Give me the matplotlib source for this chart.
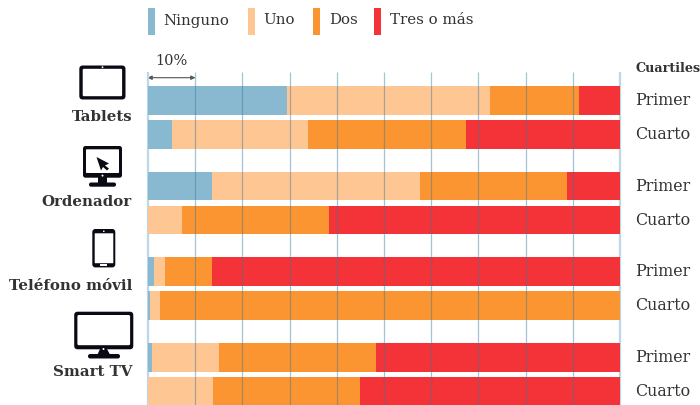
"""Devices by quartile, stacked 100% bars."""

import matplotlib

matplotlib.use("Agg")
import matplotlib.pyplot as plt
from matplotlib.patches import FancyBboxPatch, Polygon, Rectangle, Circle

devices = ["Tablets", "Ordenador", "Teléfono móvil", "Smart TV"]
quartiles = ["Primer", "Cuarto"]
categories = ["Ninguno", "Uno", "Dos", "Tres o más"]

ninguno = [29.4, 5.1, 13.6, 0.0, 1.3, 0.4, 0.8, 0.0]
uno = [43.1, 28.7, 44.0, 7.3, 2.4, 2.1, 14.2, 13.8]
dos = [18.8, 33.6, 31.2, 31.0, 9.8, 97.5, 33.3, 31.1]
tres = [8.7, 32.6, 11.2, 61.7, 86.5, 0.0, 51.7, 55.1]

colors = ["#89b9d0", "#fec693", "#fa9531", "#f33338"]
FONT = "DejaVu Serif"
TEXT = "#333333"

fig = plt.figure(figsize=(7, 4.05), dpi=100)

# overlay in pixel coords for legend, labels and icons
ov = fig.add_axes([0, 0, 1, 1])
ov.set_xlim(0, 700)
ov.set_ylim(405, 0)
ov.axis("off")

ax = fig.add_axes([148 / 700, 0, 472 / 700, 333 / 405])
ax.set_xlim(0, 100)
ax.set_ylim(405, 72)
ax.axis("off")

row_h = 28.8
tops = []
for g in range(len(devices)):
    tops += [86 + g * 85.6, 120 + g * 85.6]
centers = [t + row_h / 2 for t in tops]

left = [0.0] * len(tops)
for vals, color in zip([ninguno, uno, dos, tres], colors):
    ax.barh(centers, vals, height=row_h, left=left, color=color, linewidth=0, zorder=2)
    left = [a + b for a, b in zip(left, vals)]

for v in range(0, 101, 10):
    if v in (0, 100):
        ax.plot([v, v], [72, 405], color="#bcd8e6", lw=1.6, zorder=1,
                clip_on=False, solid_capstyle="butt")
    else:
        ax.plot([v, v], [72, 405], color="#3a7a9c", alpha=0.45, lw=0.9, zorder=3,
                clip_on=False, solid_capstyle="butt")

# legend
for x, tx, c, label in zip([148, 248, 313, 374], [163.5, 263.5, 329, 390], colors, categories):
    ov.add_patch(Rectangle((x, 8), 7, 27, color=c, lw=0))
    ov.text(tx, 20.5, label, fontsize=10.8, family=FONT, color=TEXT, va="center", ha="left")

# 10% scale
ov.annotate("", xy=(147.5, 77.7), xytext=(195.5, 77.7),
            arrowprops=dict(arrowstyle="<|-|>,head_length=0.25,head_width=0.12",
                            color="#555555", lw=0.8, shrinkA=0, shrinkB=0))
ov.text(171, 61, "10%", fontsize=10.5, family=FONT, color=TEXT, ha="center", va="center")

# row labels
ov.text(635, 68, "Cuartiles", fontsize=9.2, family=FONT, weight="bold", color=TEXT, va="center")
for i, c in enumerate(centers):
    ov.text(635, c + 0.4, quartiles[i % 2], fontsize=11.4, family=FONT, color=TEXT, va="center")

for label, y in zip(devices, [117, 202.5, 286.5, 372.5]):
    ov.text(132, y, label, fontsize=10.8, family=FONT, weight="bold", color=TEXT,
            ha="right", va="center")


def rbox(x0, y0, x1, y1, r, color):
    ov.add_patch(FancyBboxPatch((x0 + r, y0 + r), x1 - x0 - 2 * r, y1 - y0 - 2 * r,
                                boxstyle=f"round,pad={r},rounding_size={r}",
                                fc=color, ec="none", lw=0))


INK = "#0a0a14"

# tablet
rbox(79.3, 65.5, 125.5, 99.5, 3.5, INK)
rbox(82.7, 68.8, 122.1, 96.2, 1.2, "white")
ov.add_patch(Circle((102.5, 67.2), 0.9, color="white", lw=0))

# monitor
rbox(83, 146, 122, 177.7, 2.5, INK)
rbox(86, 149.3, 119, 173, 0.8, "white")
ov.add_patch(Circle((102.5, 175.6), 1.0, color="white", lw=0))
ov.add_patch(Rectangle((98, 177), 9, 6, color=INK, lw=0))
rbox(89, 182.5, 116, 186.7, 2, INK)
ov.add_patch(Polygon([(96.5, 157), (109, 163.5), (105, 165.5), (109, 168.5), (107, 170.5),
                      (103, 167), (101, 170.5)], closed=True, color=INK, lw=0))

# phone
rbox(92.3, 229, 115.3, 267.4, 3, INK)
rbox(94.7, 233.3, 113.3, 263.2, 0.4, "white")
ov.add_patch(Circle((103.8, 231.3), 0.8, color="white", lw=0))
ov.add_patch(Rectangle((100.2, 264.2), 7, 1.8, color="white", lw=0))

# tv
rbox(74.2, 311.7, 133.3, 349.3, 3.5, INK)
rbox(77.4, 315, 130.1, 345.2, 1.5, "white")
ov.add_patch(Polygon([(100, 349), (107, 349), (110, 354.5), (97.5, 354.5)], closed=True, color=INK, lw=0))
ov.add_patch(Circle((103.5, 349), 1.0, color="white", lw=0))
rbox(88, 354, 120, 358.5, 2.2, INK)

fig.savefig("out.png", dpi=100)
plt.close(fig)
